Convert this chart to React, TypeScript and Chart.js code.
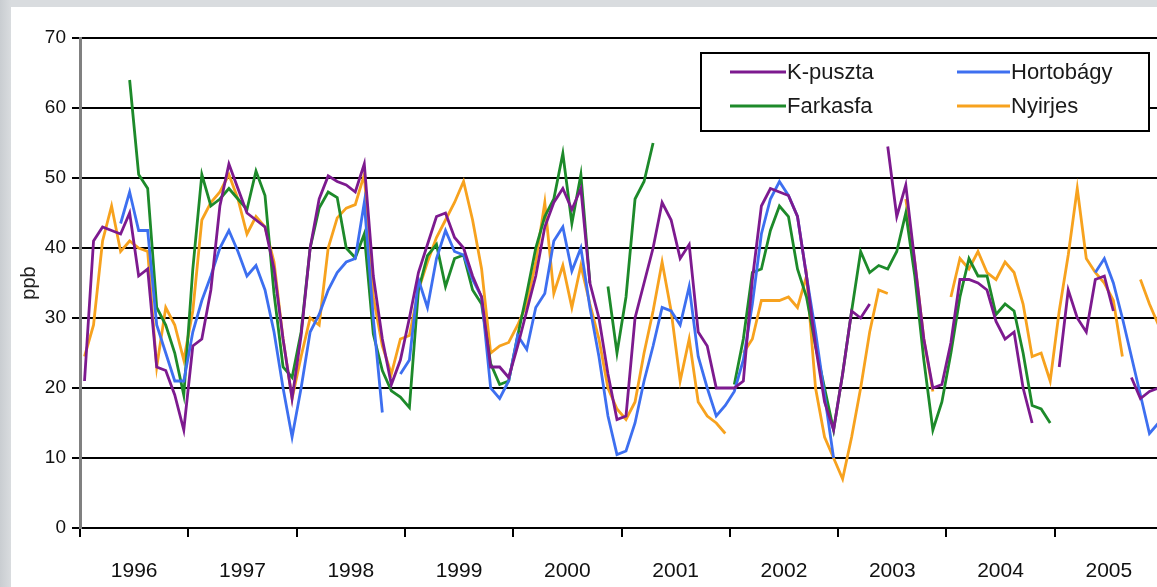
import React, { useEffect, useRef } from 'react';
import { Chart, registerables } from 'chart.js';

Chart.register(...registerables);

const years = ['1996', '1997', '1998', '1999', '2000', '2001', '2002', '2003', '2004', '2005'];
const yTicks = [0, 10, 20, 30, 40, 50, 60, 70];
const seriesNames = ['K-puszta', 'Hortobágy', 'Farkasfa', 'Nyirjes'];
const seriesColors = ['#7d1a8f', '#3d6ff0', '#1d8a2a', '#f7a21e'];

const n = null;

// monthly values, Jan 1996 .. Dec 2005 (ppb)
const kPuszta = [
  21, 41, 43, 42.5, 42, 45, 36, 37, 23, 22.5, 19, 14,
  26, 27, 34, 46, 52, 48.5, 45, 44, 43, 37, 27, 18.5,
  27.5, 40, 47, 50.3, 49.5, 49, 48, 52, 36, 27, 20.5, 24,
  30, 36.5, 40.5, 44.5, 45, 41.5, 40, 36, 33, 23, 23, 21.5,
  26, 31, 36, 43, 46.5, 48.5, 45.5, 48.5, 35, 30, 22, 15.5,
  16, 30, 35, 40, 46.5, 44, 38.5, 40.5, 28, 26, 20, 20,
  20, 21, 35.5, 46, 48.5, 48, 47.5, 44.5, 36, 26, 18, 14,
  22, 31, 30, 32, n, 54.5, 44.5, 49, 38, 27, 20, 20.5,
  26.5, 35.5, 35.5, 35, 34, 29.5, 27, 28, 20, 15, n, n,
  23, 34, 30, 28, 35.5, 36, 31, n, 21.5, 18.5, 19.5, 20,
];

const hortobagy = [
  n, n, n, n, 43.5, 48, 42.5, 42.5, 29, 25, 21, 21,
  28, 32.5, 36, 40, 42.5, 39.5, 36, 37.5, 34, 28, 20, 13,
  20, 28, 30.5, 34, 36.5, 38, 38.5, 46.5, 30, 16.5, n, 22,
  24, 35.5, 31.5, 38.5, 42.5, 39.5, 39, 35.5, 33, 20, 18.5, 21,
  27.5, 25.5, 31.5, 33.5, 41, 43, 36.7, 40, 31.5, 24.5, 16, 10.5,
  11, 15, 21, 26, 31.5, 31, 29, 34.5, 24.5, 20, 16, 17.5,
  19.5, 24, 32, 42, 47, 49.5, 47.5, 44.5, 36, 28, 19, 10,
  n, n, n, n, n, n, n, n, n, n, n, n,
  n, n, n, n, n, n, n, n, n, n, n, n,
  n, n, n, n, 36.5, 38.5, 35, 30, 24.5, 19, 13.5, 15,
];

const farkasfa = [
  n, n, n, n, n, 64, 50.5, 48.5, 31.5, 29, 25, 19,
  37, 50.5, 46, 47, 48.5, 47, 45.5, 51, 47.5, 33.5, 23, 21.5,
  28, 40, 45.7, 48, 47.2, 40, 38.6, 42, 27.7, 22.5, 19.6, 18.7,
  17.2, 34, 38.9, 40.5, 34.5, 38.5, 39, 34, 32, 23.5, 20.5, 21,
  27.5, 33.5, 40, 44.5, 47, 53.5, 43.5, 50.5, 35, n, 34.5, 25,
  33, 47, 49.5, 55, n, n, n, n, n, n, n, n,
  20.5, 27, 36.5, 37, 42.5, 46, 44.5, 37, 33, 26, 20, 14,
  22, 31, 39.5, 36.5, 37.5, 37, 39.5, 45, 36, 24, 14, 18,
  25, 33, 38.5, 36, 36, 30.5, 32, 31, 25, 17.5, 17, 15,
  n, n, n, n, n, n, n, n, n, n, n, n,
];

const nyirjes = [
  24.5, 29, 41, 46, 39.5, 41, 40, 39.5, 23, 31.5, 29, 24,
  31, 44, 46.5, 48, 50.5, 47, 42, 44.5, 43, 38, 27, 18.5,
  24.5, 30, 29, 40, 44.3, 45.7, 46.2, 50.5, 33, 26, 22, 27,
  27.5, 34, 38, 41.5, 44, 46.5, 49.5, 44, 37, 25, 26, 26.5,
  29, 32, 38, 46.5, 33.5, 37.5, 31.5, 37.5, 32, 27, 20, 17,
  15.5, 18, 25, 31, 38, 31, 21, 27, 18, 16, 15, 13.5,
  n, 25, 27, 32.5, 32.5, 32.5, 33, 31.5, 36, 20, 13, 10,
  7, 13, 20, 28, 34, 33.5, n, 47, 38, 27, 19.5, n,
  33, 38.5, 37, 39.5, 36.5, 35.5, 38, 36.5, 32, 24.5, 25, 21,
  31, 39, 48.5, 38.5, 36.5, 35, 32.5, 24.5, n, 35.5, 32, 29,
];

const allSeries = [kPuszta, hortobagy, farkasfa, nyirjes];

const FONT = '"Liberation Sans", Arial, sans-serif';

const boxLegend = {
  id: 'boxLegend',
  afterDatasetsDraw(chart: any) {
    const ctx = chart.ctx;
    ctx.save();
    const bx = 701, by = 53, bw = 448, bh = 78;
    ctx.fillStyle = '#ffffff';
    ctx.fillRect(bx, by, bw, bh);
    ctx.strokeStyle = '#000000';
    ctx.lineWidth = 2;
    ctx.strokeRect(bx, by, bw, bh);
    const slots = [
      { x1: 730, x2: 786, y: 72 },
      { x1: 957, x2: 1010, y: 72 },
      { x1: 730, x2: 786, y: 106 },
      { x1: 957, x2: 1010, y: 106 },
    ];
    chart.data.datasets.forEach((ds: any, i: number) => {
      const s = slots[i];
      ctx.strokeStyle = ds.borderColor;
      ctx.lineWidth = 3;
      ctx.beginPath();
      ctx.moveTo(s.x1, s.y);
      ctx.lineTo(s.x2, s.y);
      ctx.stroke();
      ctx.fillStyle = '#1a1a1a';
      ctx.font = `22px ${FONT}`;
      ctx.textBaseline = 'middle';
      ctx.textAlign = 'left';
      ctx.fillText(ds.label, s.x2 + 1, s.y + 1);
    });
    ctx.restore();
  },
};

function ChartView() {
  const ref = useRef<HTMLCanvasElement | null>(null);

  useEffect(() => {
    if (!ref.current) return;
    const datasets = allSeries.map((arr, si) => ({
      label: seriesNames[si],
      data: arr.map((v, i) => ({ x: i + 0.5, y: v })),
      borderColor: seriesColors[si],
      backgroundColor: seriesColors[si],
      borderWidth: 2.8,
      pointRadius: 0,
      tension: 0,
      spanGaps: false,
      fill: false,
    }));
    const chart = new Chart(ref.current, {
      type: 'line',
      data: { datasets },
      plugins: [boxLegend],
      options: {
        animation: false,
        responsive: false,
        maintainAspectRatio: false,
        layout: { padding: { left: 0, right: 2, top: 38, bottom: 0 } },
        plugins: { legend: { display: false }, tooltip: { enabled: false } },
        scales: {
          x: {
            type: 'linear',
            min: 0,
            max: 120,
            afterFit: (scale: any) => { scale.height = 59; },
            ticks: {
              stepSize: 6,
              autoSkip: false,
              maxRotation: 0,
              padding: 22,
              color: '#111',
              font: { family: FONT, size: 21 },
              callback: (v: any) => {
                const val = Number(v);
                if (val % 12 === 6) return years[(val - 6) / 12];
                return '';
              },
            },
            grid: {
              drawOnChartArea: false,
              drawTicks: true,
              tickLength: 9,
              lineWidth: 2,
              color: (c: any) => (c.tick && Number(c.tick.value) % 12 === 0 ? '#000' : 'rgba(0,0,0,0)'),
            },
            border: { display: true, color: '#000', width: 2 },
          },
          y: {
            type: 'linear',
            min: 0,
            max: 70,
            afterFit: (scale: any) => { scale.width = 80; },
            afterBuildTicks: (scale: any) => { scale.ticks = yTicks.map((v) => ({ value: v })); },
            ticks: {
              stepSize: 10,
              padding: 6,
              color: '#111',
              font: { family: FONT, size: 19 },
            },
            grid: { color: '#000', lineWidth: 2, tickLength: 8 },
            border: { display: true, color: '#808080', width: 3 },
            title: {
              display: true,
              text: 'ppb',
              color: '#222',
              font: { family: FONT, size: 20 },
              padding: { top: 17, bottom: 0 },
            },
          },
        },
      },
    } as any);
    return () => chart.destroy();
  }, []);

  return (
    <canvas
      ref={ref}
      width={1185}
      height={587}
      style={{ position: 'absolute', left: 0, top: 0, width: 1185, height: 587 }}
    />
  );
}

export default function App() {
  return (
    <div
      style={{
        position: 'fixed',
        left: 0,
        top: 0,
        width: 1157,
        height: 587,
        overflow: 'hidden',
        background: 'linear-gradient(90deg, #c9cdd1 0px, #d9dcdf 11px)',
      }}
    >
      <div style={{ position: 'absolute', left: 11, top: 7, right: 0, bottom: 0, background: '#ffffff' }} />
      <ChartView />
    </div>
  );
}
